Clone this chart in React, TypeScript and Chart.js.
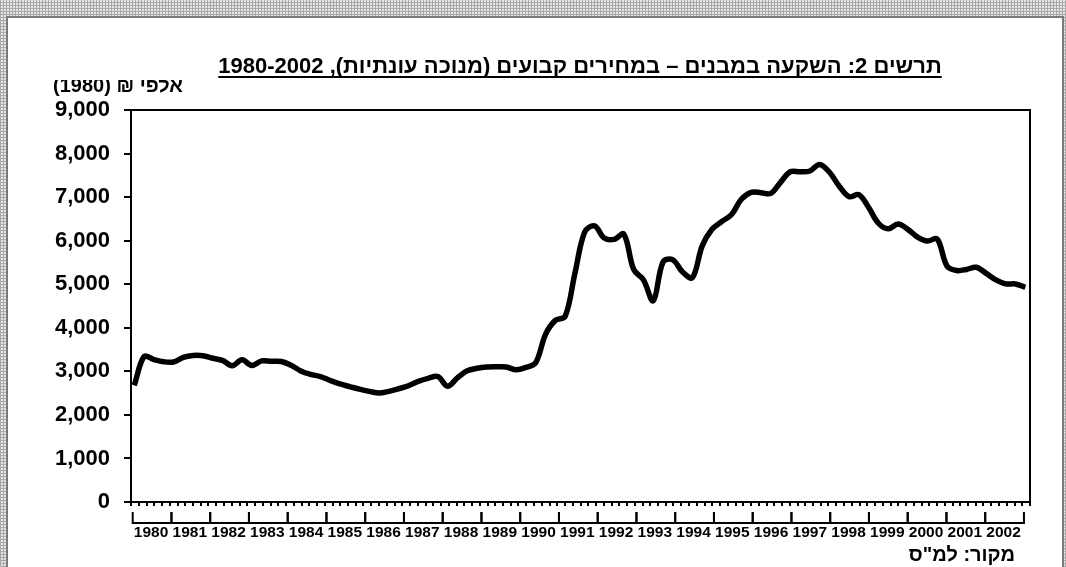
import React, { useEffect, useRef } from 'react';
import { Chart, registerables } from 'chart.js';

Chart.register(...registerables);

const TITLE = 'תרשים 2: השקעה במבנים – במחירים קבועים (מנוכה עונתיות), 1980-2002';
const Y_TITLE = 'אלפי ₪ (1980)';
const SOURCE = 'מקור: למ"ס';

const YEARS = [
  '1980', '1981', '1982', '1983', '1984', '1985', '1986', '1987', '1988', '1989', '1990', '1991',
  '1992', '1993', '1994', '1995', '1996', '1997', '1998', '1999', '2000', '2001', '2002',
];

// quarterly values, thousands of NIS (1980 prices), seasonally adjusted
const INVESTMENT = [
  2680, 3340, 3270, 3220, // 1980
  3215, 3320, 3365, 3360, // 1981
  3300, 3250, 3130, 3265, // 1982
  3135, 3240, 3230, 3225, // 1983
  3140, 3010, 2930, 2880, // 1984
  2790, 2710, 2650, 2590, // 1985
  2540, 2500, 2540, 2600, // 1986
  2670, 2770, 2840, 2880, // 1987
  2660, 2850, 3013, 3070, // 1988
  3100, 3105, 3100, 3036, // 1989
  3090, 3200, 3850, 4170, // 1990
  4262, 5250, 6200, 6340, // 1991
  6060, 6030, 6150, 5340, // 1992
  5100, 4620, 5510, 5560, // 1993
  5280, 5150, 5880, 6260, // 1994
  6440, 6600, 6950, 7110, // 1995
  7100, 7085, 7340, 7582, // 1996
  7582, 7600, 7750, 7570, // 1997
  7250, 7010, 7055, 6760, // 1998
  6400, 6272, 6380, 6260, // 1999
  6080, 5990, 6040, 5420, // 2000
  5315, 5340, 5390, 5250, // 2001
  5100, 5007, 5007, 4929, // 2002
];

const Y_MIN = 0;
const Y_MAX = 9000;
const Y_STEP = 1000;

const FONT = 'Arial, "Liberation Sans", sans-serif';

const decorPlugin = {
  id: 'decor',
  afterDraw(chart: any) {
    const { ctx, chartArea: a, scales } = chart;
    ctx.save();
    ctx.strokeStyle = '#000';
    ctx.fillStyle = '#000';
    ctx.lineWidth = 2;
    // plot frame (top and right)
    ctx.beginPath();
    ctx.moveTo(a.left, a.top);
    ctx.lineTo(a.right, a.top);
    ctx.lineTo(a.right, a.bottom);
    ctx.stroke();

    // year brackets
    const yr = scales.x2;
    ctx.font = `bold 15.5px ${FONT}`;
    ctx.textAlign = 'center';
    ctx.textBaseline = 'alphabetic';
    const bTop = a.bottom + 10;
    const bBot = a.bottom + 21;
    YEARS.forEach((label) => {
      const v = Number(label);
      const x0 = yr.getPixelForValue(v);
      const x1 = yr.getPixelForValue(v + 1);
      ctx.beginPath();
      ctx.moveTo(x0, bTop);
      ctx.lineTo(x0, bBot);
      ctx.lineTo(x1, bBot);
      ctx.lineTo(x1, bTop);
      ctx.stroke();
      ctx.fillText(label, (x0 + x1) / 2 - 1, a.bottom + 35);
    });

    // title
    ctx.direction = 'rtl';
    ctx.font = `bold 22px ${FONT}`;
    ctx.textAlign = 'center';
    const cx = 580;
    ctx.fillText(TITLE, cx, 73);
    const w = ctx.measureText(TITLE).width;
    ctx.beginPath();
    ctx.moveTo(cx - w / 2, 77);
    ctx.lineTo(cx + w / 2, 77);
    ctx.stroke();

    // y-axis title (clipped top like the original)
    ctx.save();
    ctx.beginPath();
    ctx.rect(0, 80, 400, 30);
    ctx.clip();
    ctx.font = `bold 20px ${FONT}`;
    ctx.textAlign = 'right';
    ctx.fillText(Y_TITLE, 183, 92);
    ctx.restore();

    // source
    ctx.direction = 'rtl';
    ctx.font = `bold 20px ${FONT}`;
    ctx.textAlign = 'right';
    ctx.fillText(SOURCE, 1015, 561);
    ctx.restore();
  },
};

export default function App() {
  const ref = useRef<HTMLCanvasElement | null>(null);

  useEffect(() => {
    if (!ref.current) return;
    const points = INVESTMENT.map((v, i) => ({ x: i, y: v }));
    const chart = new Chart(ref.current, {
      type: 'line',
      data: {
        datasets: [
          {
            label: 'השקעה במבנים',
            data: points,
            borderColor: '#000',
            borderWidth: 5.5,
            pointRadius: 0,
            tension: 0.35,
            fill: false,
            borderJoinStyle: 'round',
            xAxisID: 'x',
            yAxisID: 'y',
          },
        ],
      },
      options: {
        animation: false,
        responsive: false,
        devicePixelRatio: 1,
        layout: { padding: { top: 110, right: 36, left: 0, bottom: 0 } },
        plugins: { legend: { display: false }, tooltip: { enabled: false }, title: { display: false } },
        scales: {
          x: { type: 'linear', min: -0.34, max: 91.48, display: false },
          x2: {
            type: 'linear',
            position: 'bottom',
            min: 1979.956,
            max: 2003.156,
            grid: { drawOnChartArea: false, drawTicks: true, tickLength: 4, lineWidth: 2, color: '#000' },
            border: { display: true, color: '#000', width: 2 },
            ticks: { stepSize: 0.2, autoSkip: false, callback: () => '', display: true },
            afterFit(s: any) {
              s.height = 65;
            },
          },
          y: {
            min: Y_MIN,
            max: Y_MAX,
            ticks: {
              stepSize: Y_STEP,
              color: '#000',
              padding: 14,
              font: { family: FONT, weight: 'bold', size: 22 },
              callback: (v: any) => Number(v).toLocaleString('en-US'),
            },
            grid: { drawOnChartArea: false, drawTicks: true, tickLength: 7, lineWidth: 2, color: '#000' },
            border: { display: true, color: '#000', width: 2 },
            afterFit(s: any) {
              s.width = 131;
            },
          },
        },
      },
      plugins: [decorPlugin],
    });
    return () => chart.destroy();
  }, []);

  const hatch =
    'repeating-linear-gradient(0deg, #a8a8a8 0px, #a8a8a8 1px, transparent 1px, transparent 3px), repeating-linear-gradient(90deg, #a8a8a8 0px, #a8a8a8 1px, transparent 1px, transparent 3px)';

  return (
    <div
      style={{
        position: 'fixed',
        left: 0,
        top: 0,
        width: 1066,
        height: 567,
        overflow: 'hidden',
        backgroundColor: '#e6e6e6',
        backgroundImage: hatch,
      }}
    >
      <div
        style={{
          position: 'absolute',
          left: 6,
          top: 16,
          width: 1054,
          height: 600,
          background: '#fff',
          borderLeft: '2px solid #7a7a7a',
          borderTop: '2px solid #7a7a7a',
          borderRight: '2px solid #7a7a7a',
        }}
      />
      <canvas
        ref={ref}
        width={1066}
        height={567}
        style={{ position: 'absolute', left: 0, top: 0, width: 1066, height: 567 }}
      />
    </div>
  );
}
